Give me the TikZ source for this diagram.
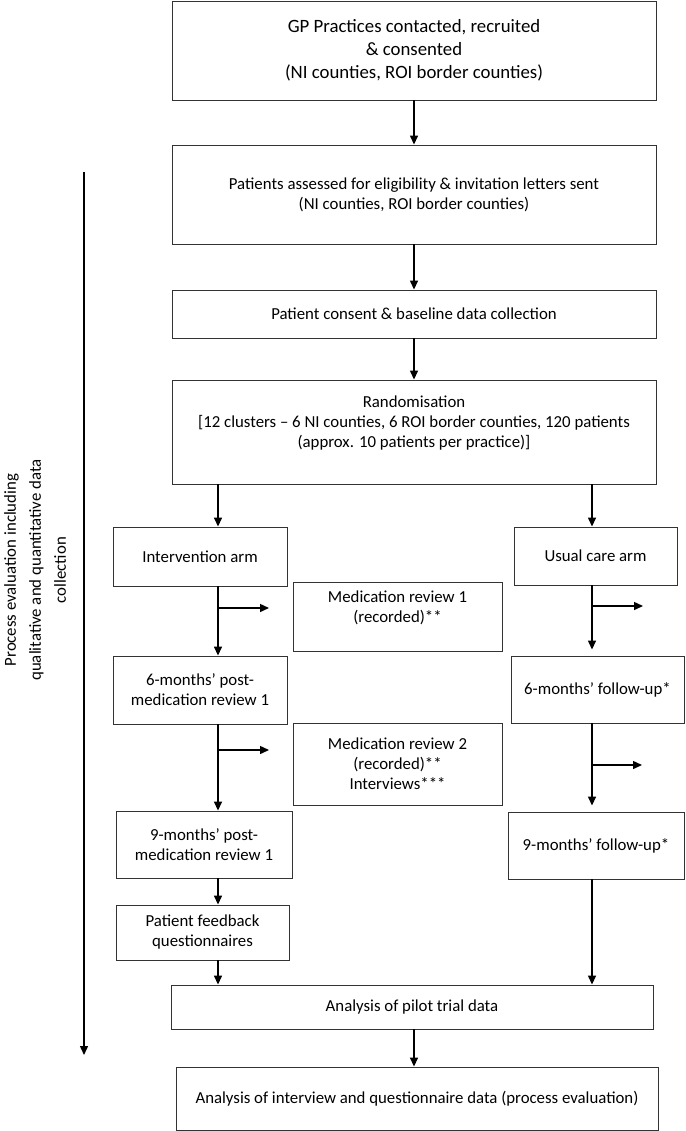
\documentclass[tikz,border=0pt]{standalone}
\usepackage{fontspec}
\setmainfont{Carlito}
\usetikzlibrary{arrows.meta}

\begin{document}
\begin{tikzpicture}[%
  x=1pt,y=-1pt,
  boxStyle/.style={draw=black!80,line width=0.9pt,align=center,inner sep=0pt,
    font=\fontsize{16.8}{20}\selectfont},
  arrowStyle/.style={-{Triangle[length=9pt,width=8pt]},line width=1.4pt},
  sideStyle/.style={align=center,rotate=90,font=\fontsize{16.8}{25}\selectfont}%
]
%
%
\pgfmathsetmacro{\wideW}{484}  % Width of the full-width boxes.
\pgfmathsetmacro{\armW}{174}   % Width of the boxes of each arm.
\pgfmathsetmacro{\midW}{209}   % Width of the medication review boxes.
\useasboundingbox (0,0) rectangle (685,1131);
\coordinate (colMid) at (414,0);
\coordinate (colL) at (218,0);
\coordinate (colR) at (592,0);
%
%
% Recruitment and randomisation.
\node[boxStyle,minimum width=\wideW,minimum height=99,font=\fontsize{18.8}{23}\selectfont] (gp) at (414,50.5)
  {GP Practices contacted, recruited\\ \& consented\\ (NI counties, ROI border counties)};
\node[boxStyle,minimum width=\wideW,minimum height=99] (assess) at (414,194.5)
  {Patients assessed for eligibility \& invitation letters sent\\ (NI counties, ROI border counties)};
\node[boxStyle,minimum width=\wideW,minimum height=48] (consent) at (414,314)
  {Patient consent \& baseline data collection};
\node[boxStyle,minimum width=\wideW,minimum height=104] (random) at (414,432)
  {Randomisation\\ {[}12 clusters – 6 NI counties, 6 ROI border counties, 120 patients\\ (approx. 10 patients per practice){]}\\ ~};
%
% The two arms.
\node[boxStyle,minimum width=\armW,minimum height=59] (interv) at (200,556.5) {Intervention arm};
\node[boxStyle,minimum width=163,minimum height=58] (usual) at (595.5,556) {Usual care arm};
\node[boxStyle,minimum width=\midW,minimum height=69] (medA) at (397.5,616.5)
  {Medication review 1\\ (recorded)**\\ ~};
\node[boxStyle,minimum width=\armW,minimum height=68] (postA) at (200,690)
  {6-months’ post-\\ medication review 1};
\node[boxStyle,minimum width=173,minimum height=67] (followA) at (597.5,689.5) {6-months’ follow-up*};
\node[boxStyle,minimum width=\midW,minimum height=82] (medB) at (397.5,764)
  {Medication review 2\\ (recorded)**\\ Interviews***};
\node[boxStyle,minimum width=176,minimum height=67] (postB) at (204,844.5)
  {9-months’ post-\\ medication review 1};
\node[boxStyle,minimum width=176,minimum height=67] (followB) at (596,845.5) {9-months’ follow-up*};
\node[boxStyle,minimum width=173,minimum height=55] (feedback) at (202.5,932.5)
  {Patient feedback\\ questionnaires};
%
% Analysis.
\node[boxStyle,minimum width=482,minimum height=44] (pilot) at (412,1007) {Analysis of pilot trial data};
\node[boxStyle,minimum width=482,minimum height=63] (interview) at (417,1098.5)
  {Analysis of interview and questionnaire data (process evaluation)};
%
% Process evaluation along the left side.
\node[sideStyle] (evalText) at (35,570)
  {Process evaluation including\\ qualitative and quantitative data\\ collection};
\coordinate (evalTop) at (84,172);
\coordinate (evalEnd) at (84,1055);
\draw[arrowStyle] (evalTop) -- (evalEnd);
%
% Connectors.
\draw[arrowStyle] (gp.south -| colMid) -- (assess.north -| colMid);
\draw[arrowStyle] (assess.south -| colMid) -- (consent.north -| colMid);
\draw[arrowStyle] (consent.south -| colMid) -- (random.north -| colMid);
\draw[arrowStyle] (random.south -| colL) -- (interv.north -| colL);
\draw[arrowStyle] (random.south -| colR) -- (usual.north -| colR);
\draw[arrowStyle] (interv.south -| colL) -- (postA.north -| colL);
\draw[arrowStyle] (postA.south -| colL) -- (postB.north -| colL);
\draw[arrowStyle] (postB.south -| colL) -- (feedback.north -| colL);
\draw[arrowStyle] (feedback.south -| colL) -- (pilot.north -| colL);
\draw[arrowStyle,shorten >=6pt] (usual.south -| colR) -- (followA.north -| colR);
\draw[arrowStyle,shorten >=6pt] (followA.south -| colR) -- (followB.north -| colR);
\draw[arrowStyle] (followB.south -| colR) -- (pilot.north -| colR);
\draw[arrowStyle] (pilot.south -| colMid) -- (interview.north -| colMid);
%
% Side branches towards the reviews.
\coordinate (brA) at (269,608);
\coordinate (brB) at (269,750);
\coordinate (brC) at (643,606);
\coordinate (brD) at (642,765);
\draw[arrowStyle] (colL |- brA) -- (brA);
\draw[arrowStyle] (colL |- brB) -- (brB);
\draw[arrowStyle] (colR |- brC) -- (brC);
\draw[arrowStyle] (colR |- brD) -- (brD);
\end{tikzpicture}
\end{document}
